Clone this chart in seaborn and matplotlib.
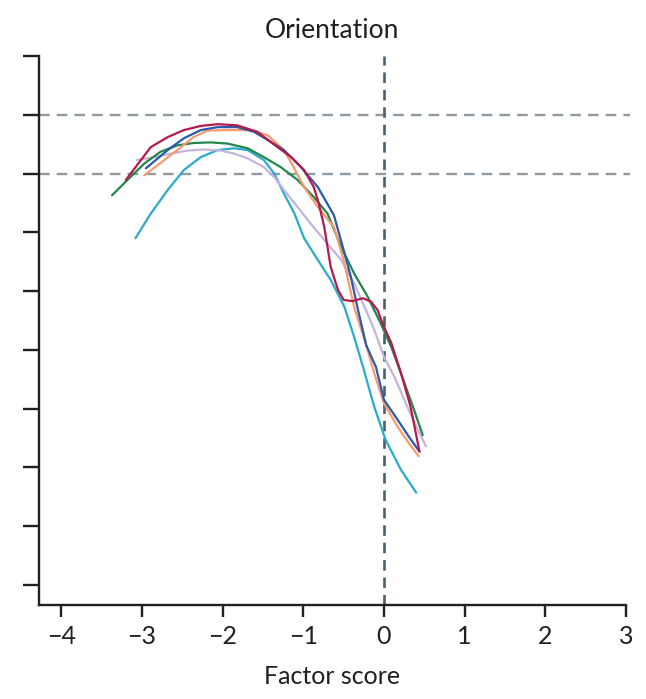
import pandas as pd   ###data table for seaborn
import matplotlib
matplotlib.use("Agg")
import matplotlib.pyplot as plt
import seaborn as sns

###Values (factor score, y level)
red_x = [-3.20, -2.89, -2.68, -2.48, -2.27, -2.06, -1.82, -1.57, -1.32, -1.15, -0.99, -0.87, -0.81, -0.74,
         -0.66, -0.57, -0.50, -0.39, -0.26, -0.16, -0.08, 0.00, 0.09, 0.17, 0.21, 0.33, 0.44]
red_y = [6.89, 7.45, 7.62, 7.74, 7.81, 7.84, 7.82, 7.71, 7.45, 7.28, 7.06, 6.77, 6.50, 6.09,
         5.41, 5.02, 4.85, 4.83, 4.88, 4.82, 4.68, 4.39, 4.12, 3.78, 3.61, 3.03, 2.27]

blue_x = [-2.95, -2.68, -2.48, -2.27, -2.06, -1.82, -1.61, -1.44, -1.24, -1.03, -0.82, -0.62, -0.50,
          -0.41, -0.33, -0.22, -0.10, 0.00, 0.17, 0.31, 0.44]
blue_y = [7.09, 7.40, 7.60, 7.74, 7.79, 7.79, 7.71, 7.57, 7.40, 7.11, 6.77, 6.29, 5.70,
          5.24, 4.73, 4.08, 3.71, 3.15, 2.81, 2.52, 2.27]

orange_x = [-2.97, -2.77, -2.56, -2.36, -2.19, -1.94, -1.65, -1.44, -1.24, -1.12, -0.99, -0.82, -0.62,
            -0.50, -0.37, -0.22, -0.12, 0.00, 0.17, 0.31, 0.43]
orange_y = [6.97, 7.18, 7.40, 7.62, 7.73, 7.74, 7.74, 7.65, 7.40, 7.11, 6.77, 6.43, 6.09,
            5.53, 4.73, 4.08, 3.60, 3.09, 2.69, 2.41, 2.19]

green_x = [-3.37, -3.18, -2.97, -2.77, -2.56, -2.36, -2.15, -1.94, -1.69, -1.49, -1.28, -1.07, -0.87,
           -0.70, -0.53, -0.37, -0.20, -0.04, 0.09, 0.21, 0.36, 0.48]
green_y = [6.63, 6.89, 7.17, 7.37, 7.48, 7.52, 7.53, 7.51, 7.43, 7.28, 7.11, 6.89, 6.60,
           6.32, 5.75, 5.30, 4.90, 4.45, 4.05, 3.60, 3.03, 2.55]

lavender_x = [-3.06, -2.85, -2.64, -2.44, -2.23, -2.02, -1.86, -1.69, -1.49, -1.36, -1.24, -1.07, -0.91,
              -0.74, -0.53, -0.37, -0.24, -0.12, 0.00, 0.13, 0.29, 0.42, 0.52]
lavender_y = [7.23, 7.28, 7.34, 7.39, 7.41, 7.39, 7.34, 7.26, 7.11, 6.94, 6.72, 6.43, 6.15,
              5.87, 5.53, 5.13, 4.73, 4.34, 3.88, 3.54, 3.03, 2.64, 2.36]

cyan_x = [-3.08, -2.89, -2.68, -2.48, -2.27, -2.06, -1.86, -1.69, -1.49, -1.36, -1.24, -1.11, -0.99,
          -0.82, -0.66, -0.49, -0.37, -0.26, -0.12, 0.02, 0.21, 0.40]
cyan_y = [5.90, 6.32, 6.72, 7.06, 7.28, 7.40, 7.43, 7.40, 7.23, 7.00, 6.66, 6.32, 5.90,
          5.53, 5.19, 4.73, 4.22, 3.71, 3.03, 2.47, 1.96, 1.57]

groups = ['cyan', 'lavender', 'green', 'orange', 'blue', 'red']
colors = ['#2aabcb', '#c5b4da', '#23874c', '#f79a70', '#2a5ba8', '#b5194b']

x_ticks = [-4, -3, -2, -1, 0, 1, 2, 3]
y_ticks = list(range(10))
ref_levels = [7, 8]

###Building one long table for seaborn
series = {'cyan': (cyan_x, cyan_y), 'lavender': (lavender_x, lavender_y), 'green': (green_x, green_y),
          'orange': (orange_x, orange_y), 'blue': (blue_x, blue_y), 'red': (red_x, red_y)}
rows = []
for g in groups:
    xs, ys = series[g]
    for a, b in zip(xs, ys):
        rows.append({'score': a, 'level': b, 'group': g})
df = pd.DataFrame(rows)

sns.set_style('white')
plt.rcParams['font.family'] = ['Lato', 'DejaVu Sans']

fig = plt.figure(figsize=(6.46, 6.99), dpi=100)
ax = fig.add_axes([0.0598, 0.1345, 0.9093, 0.7854])

###reference lines
for lv in ref_levels:
    ax.axhline(lv, xmin=0, xmax=1.006, color='#8e9ba4', lw=1.7, dashes=(4.5, 3), clip_on=False, zorder=1)
ax.axvline(0, color='#4a616d', lw=1.9, dashes=(4, 2.6), zorder=1)

sns.lineplot(data=df, x='score', y='level', hue='group', hue_order=groups,
             palette=dict(zip(groups, colors)), sort=False, legend=False, lw=1.6, ax=ax, zorder=3)

ax.set_xlim(-4.28, 3)
ax.set_ylim(-0.34, 9)
ax.set_xticks(x_ticks)
ax.set_xticklabels([str(t).replace('-', '\u2212') for t in x_ticks])
ax.set_yticks(y_ticks)
ax.set_yticklabels([])

###axes styling
sns.despine(ax=ax)
for s in ['left', 'bottom']:
    ax.spines[s].set_linewidth(1.7)
    ax.spines[s].set_color('#231f20')
ax.tick_params(axis='y', length=11.5, width=1.7, color='#231f20', direction='out', left=True)
ax.tick_params(axis='x', length=8.5, width=1.7, color='#231f20', direction='out', bottom=True,
               labelsize=18, pad=6, labelcolor='#231f20')

ax.set_title('Orientation', fontsize=19, color='#231f20', pad=13)
ax.set_xlabel('Factor score', fontsize=18, color='#231f20', labelpad=12)
ax.set_ylabel('')

plt.savefig('out.png', dpi=100)
